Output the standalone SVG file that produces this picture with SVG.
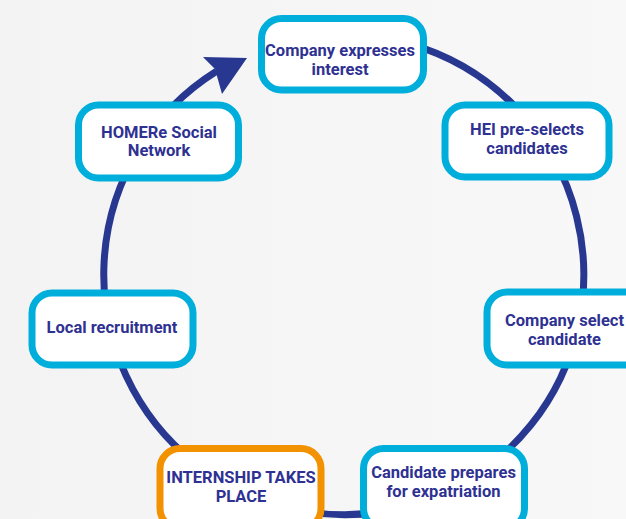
<svg xmlns="http://www.w3.org/2000/svg" width="626" height="519" viewBox="0 0 626 519">
<defs>
<linearGradient id="bg" x1="0" y1="0" x2="1" y2="0">
<stop offset="0" stop-color="#f3f3f3"/><stop offset="1" stop-color="#f8f8f8"/>
</linearGradient>
<style>
.box{fill:#ffffff;stroke:#00aedb;stroke-width:7}
.hl{stroke:#f39200}
.t{font-family:Roboto,"Liberation Sans",sans-serif;font-weight:bold;font-size:16.5px;fill:#2e3192;text-anchor:middle}
.ring{fill:none;stroke:#283891;stroke-width:7}
</style>
</defs>
<rect width="626" height="519" fill="url(#bg)"/>
<g id="connectors">
<path class="ring" d="M300,38.7 A240,240 0 1 1 216.5,71.2"/>
<path d="M247,58 L203,57 L215,69 L222,94 Z" fill="#283891"/>
</g>
<g id="n1"><rect class="box" x="261.5" y="18.5" width="162" height="71.5" rx="20"/><text class="t" x="340" y="56">Company expresses</text><text class="t" x="340" y="74.5">interest</text></g>
<g id="n2"><rect class="box" x="445" y="105" width="164" height="72" rx="20"/><text class="t" x="527" y="135">HEI pre-selects</text><text class="t" x="527" y="153.5">candidates</text></g>
<g id="n3"><rect class="box" x="487" y="292" width="165" height="73" rx="20"/><text class="t" x="564.5" y="326">Company select</text><text class="t" x="564.5" y="344.5">candidate</text></g>
<g id="n4"><rect class="box" x="363.5" y="448.5" width="161" height="80" rx="20"/><text class="t" x="443.5" y="477.5">Candidate prepares</text><text class="t" x="443.5" y="496.5">for expatriation</text></g>
<g id="n5"><rect class="box hl" x="160" y="448.5" width="161" height="80" rx="20"/><text class="t" x="241" y="483">INTERNSHIP TAKES</text><text class="t" x="241" y="501.5">PLACE</text></g>
<g id="n6"><rect class="box" x="32" y="293" width="161" height="72" rx="20"/><text class="t" x="112" y="333">Local recruitment</text></g>
<g id="n7"><rect class="box" x="78.5" y="105" width="160" height="73" rx="20"/><text class="t" x="159" y="137.5">HOMERe Social</text><text class="t" x="159" y="156">Network</text></g>
</svg>
